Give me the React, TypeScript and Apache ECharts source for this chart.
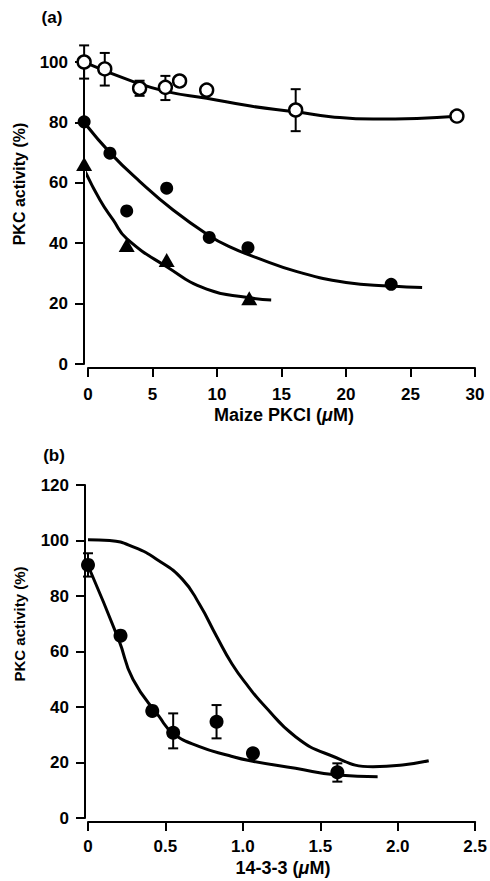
import React, { useEffect, useRef } from "react";
import * as echarts from "echarts";

// ---------- Panel (a): Maize PKCI ----------
const xTicksA = [0, 5, 10, 15, 20, 25, 30];
const yTicksA = [0, 20, 40, 60, 80, 100];
// open circles [x, y]
const openPtsA = [
  [-0.3, 100], [1.3, 97.7], [4.0, 91.3], [6.0, 91.6], [7.1, 93.7], [9.2, 90.7], [16.1, 84.1], [28.6, 82.1],
];
// error bars [x, y, low, high]
const openErrA = [
  [-0.3, 100, 94.5, 105.5], [1.3, 97.7, 92.2, 103], [4.0, 91.3, 88.8, 93.8], [6.0, 91.6, 87.4, 95.4], [16.1, 84.1, 77.1, 91],
];
const openCurveA = [
  [-0.3, 100], [3.5, 93.5], [6.1, 90.2], [9.2, 88], [12.6, 85.4], [16.1, 83.5], [18.8, 81.9], [22.1, 81.1], [25.5, 81.3], [28.6, 82],
];
const filledPtsA = [
  [-0.3, 80.2], [1.7, 69.8], [3.0, 50.7], [6.1, 58.2], [9.4, 41.9], [12.4, 38.5], [23.5, 26.4],
];
const filledCurveA = [
  [-0.3, 80], [1.7, 70], [4, 60.5], [6.6, 51], [9.4, 42.5], [11, 38.8], [13, 35.3], [16.2, 30.6], [20, 27], [23.5, 25.8], [25.9, 25.3],
];
const triPtsA = [
  [-0.3, 66.2], [3.0, 39.4], [6.1, 34.4], [12.5, 21.8],
];
const triCurveA = [
  [-0.3, 64.5], [0.93, 54.3], [1.95, 47.7], [3, 41.5], [6.1, 32.2], [9.2, 24.8], [12.4, 22], [14.2, 21.2],
];

// ---------- Panel (b): 14-3-3 ----------
const xTicksB = [0, 0.5, 1.0, 1.5, 2.0, 2.5];
const yTicksB = [0, 20, 40, 60, 80, 100, 120];
const ptsB = [
  [0, 91.2], [0.21, 65.7], [0.415, 38.6], [0.55, 30.7], [0.83, 34.7], [1.065, 23.3], [1.61, 16.5],
];
const errB = [
  [0, 91.2, 87, 95.4], [0.55, 30.7, 25.1, 37.7], [0.83, 34.7, 28.7, 40.7], [1.61, 16.5, 13.1, 19.7],
];
const fitCurveB = [
  [0, 91], [0.2, 64], [0.29, 50], [0.46, 36.5], [0.55, 30.5], [0.72, 25.7], [0.91, 22.5], [1.04, 20.7], [1.34, 17.9], [1.61, 15.5], [1.87, 14.9],
];
const sigmoidCurveB = [
  [0, 100.3], [0.14, 100], [0.3, 97.5], [0.45, 93], [0.61, 86], [0.72, 77], [0.83, 65.5], [0.93, 55.5], [1.04, 47], [1.13, 41], [1.34, 29.3], [1.56, 22.7], [1.84, 18.5], [2.03, 19.1], [2.2, 20.6],
];

const FONT = "'Liberation Sans', Arial, Helvetica, sans-serif";

function errorBarSeries(data: number[][], xi: number, yi: number) {
  return {
    type: "custom",
    xAxisIndex: xi,
    yAxisIndex: yi,
    clip: false,
    z: 1,
    encode: { x: 0, y: [1, 2, 3] },
    data,
    renderItem: (_params: any, api: any) => {
      const x = api.value(0);
      const lo = api.value(2);
      const hi = api.value(3);
      const pHi = api.coord([x, hi]);
      const pLo = api.coord([x, lo]);
      const w = 5;
      const st = { stroke: "#000", lineWidth: 2 };
      return {
        type: "group",
        children: [
          { type: "line", shape: { x1: pHi[0], y1: pHi[1], x2: pLo[0], y2: pLo[1] }, style: st },
          { type: "line", shape: { x1: pHi[0] - w, y1: pHi[1], x2: pHi[0] + w, y2: pHi[1] }, style: st },
          { type: "line", shape: { x1: pLo[0] - w, y1: pLo[1], x2: pLo[0] + w, y2: pLo[1] }, style: st },
        ],
      };
    },
  };
}

function curve(data: number[][], xi: number, yi: number) {
  return {
    type: "line",
    xAxisIndex: xi,
    yAxisIndex: yi,
    data,
    smooth: 0.5,
    showSymbol: false,
    symbol: "none",
    clip: false,
    z: 2,
    lineStyle: { color: "#000", width: 3, opacity: 1 },
  };
}

function scatter(data: number[][], xi: number, yi: number, symbol: string, size: any, open: boolean) {
  return {
    type: "scatter",
    xAxisIndex: xi,
    yAxisIndex: yi,
    data,
    symbol,
    symbolSize: size,
    clip: false,
    z: 3,
    itemStyle: open
      ? { color: "#fff", borderColor: "#000", borderWidth: 2.4, opacity: 1 }
      : { color: "#000", opacity: 1 },
  };
}

const axisCommon = {
  axisLine: { show: true, onZero: false, lineStyle: { color: "#000", width: 2 } },
  axisTick: { show: true, length: 9, lineStyle: { color: "#000", width: 2 } },
  splitLine: { show: false },
};

export default function App() {
  const ref = useRef<HTMLDivElement>(null);
  useEffect(() => {
    if (!ref.current) return;
    const chart = echarts.init(ref.current, null, { renderer: "svg" });
    const labelStyle = { color: "#000", fontFamily: FONT, fontWeight: "bold" as const, fontSize: 17 };
    chart.setOption({
      animation: false,
      backgroundColor: "#fff",
      grid: [
        { left: 88, top: 62, width: 387, height: 302 },
        { left: 88, top: 485, width: 388, height: 333 },
      ],
      xAxis: [
        {
          gridIndex: 0, type: "value", min: xTicksA[0], max: xTicksA[xTicksA.length - 1], interval: 5,
          offset: 4, ...axisCommon,
          axisLabel: { ...labelStyle, margin: 18, formatter: (v: number) => String(v) },
        },
        {
          gridIndex: 1, type: "value", min: xTicksB[0], max: xTicksB[xTicksB.length - 1], interval: 0.5,
          offset: 4, ...axisCommon,
          axisLabel: { ...labelStyle, margin: 16, formatter: (v: number) => (v === 0 ? "0" : v.toFixed(1)) },
        },
      ],
      yAxis: [
        {
          gridIndex: 0, type: "value", min: yTicksA[0], max: yTicksA[yTicksA.length - 1], interval: 20,
          offset: 4, ...axisCommon,
          axisLabel: { ...labelStyle, margin: 16 },
        },
        {
          gridIndex: 1, type: "value", min: yTicksB[0], max: yTicksB[yTicksB.length - 1], interval: 20,
          offset: 3, ...axisCommon,
          axisLabel: { ...labelStyle, margin: 16 },
        },
      ],
      graphic: [
        { type: "text", x: 52, y: 17, style: { text: "(a)", font: `bold 17px ${FONT}`, fill: "#000", align: "center", verticalAlign: "middle" } },
        { type: "text", x: 54, y: 455, style: { text: "(b)", font: `bold 17px ${FONT}`, fill: "#000", align: "center", verticalAlign: "middle" } },
        { type: "text", x: 19, y: 184, rotation: Math.PI / 2, style: { text: "PKC activity (%)", font: `bold 16px ${FONT}`, fill: "#000", align: "center", verticalAlign: "middle" } },
        { type: "text", x: 19, y: 624, rotation: Math.PI / 2, style: { text: "PKC activity (%)", font: `bold 15px ${FONT}`, fill: "#000", align: "center", verticalAlign: "middle" } },
        {
          type: "text", x: 284, y: 415,
          style: {
            text: "{n|Maize PKCI (}{i|μ}{n|M)}", align: "center", verticalAlign: "middle",
            rich: {
              n: { font: `bold 18px ${FONT}`, fill: "#000" },
              i: { font: `italic bold 18px ${FONT}`, fill: "#000" },
            },
          },
        },
        {
          type: "text", x: 283, y: 868,
          style: {
            text: "{n|14-3-3 (}{i|μ}{n|M)}", align: "center", verticalAlign: "middle",
            rich: {
              n: { font: `bold 18px ${FONT}`, fill: "#000" },
              i: { font: `italic bold 18px ${FONT}`, fill: "#000" },
            },
          },
        },
      ],
      series: [
        errorBarSeries(openErrA, 0, 0),
        curve(openCurveA, 0, 0),
        curve(filledCurveA, 0, 0),
        curve(triCurveA, 0, 0),
        scatter(openPtsA, 0, 0, "circle", 13, true),
        scatter(filledPtsA, 0, 0, "circle", 13, false),
        scatter(triPtsA, 0, 0, "triangle", [16, 14], false),
        errorBarSeries(errB, 1, 1),
        curve(fitCurveB, 1, 1),
        curve(sigmoidCurveB, 1, 1),
        scatter(ptsB, 1, 1, "circle", 14, false),
      ],
    });
    return () => chart.dispose();
  }, []);
  return <div ref={ref} style={{ position: "fixed", left: 0, top: 0, width: 490, height: 881, background: "#fff" }} />;
}
